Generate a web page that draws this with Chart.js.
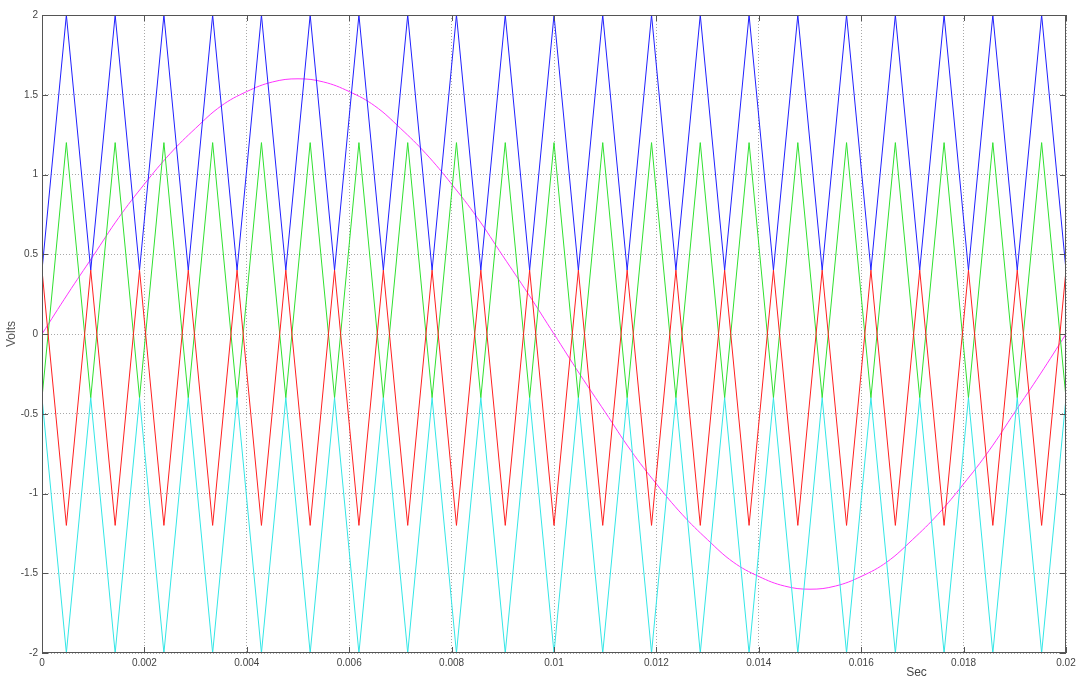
<!DOCTYPE html>
<html>
<head>
<meta charset="utf-8">
<script src="https://cdn.jsdelivr.net/npm/chart.js@4/dist/chart.umd.min.js"></script>
<style>
  html, body { margin: 0; padding: 0; background: #fff; }
  #wrap { width: 1083px; height: 679px; }
</style>
</head>
<body>
<div id="wrap"><canvas id="myChart"></canvas></div>
<script>
// carrier vertex times (s), one every half carrier period
const carrierTimes = [
  0, 0.000476, 0.000952, 0.001429, 0.001905, 0.002381, 0.002857, 0.003333, 0.003810, 0.004286,
  0.004762, 0.005238, 0.005714, 0.006190, 0.006667, 0.007143, 0.007619, 0.008095, 0.008571, 0.009048,
  0.009524, 0.010000, 0.010476, 0.010952, 0.011429, 0.011905, 0.012381, 0.012857, 0.013333, 0.013810,
  0.014286, 0.014762, 0.015238, 0.015714, 0.016190, 0.016667, 0.017143, 0.017619, 0.018095, 0.018571,
  0.019048, 0.019524, 0.020000
];
const blueVolts = [
  0.4, 2, 0.4, 2, 0.4, 2, 0.4, 2, 0.4, 2, 0.4, 2, 0.4, 2, 0.4, 2, 0.4, 2, 0.4, 2, 0.4, 2,
  0.4, 2, 0.4, 2, 0.4, 2, 0.4, 2, 0.4, 2, 0.4, 2, 0.4, 2, 0.4, 2, 0.4, 2, 0.4, 2, 0.4
];
const greenVolts = [
  -0.4, 1.2, -0.4, 1.2, -0.4, 1.2, -0.4, 1.2, -0.4, 1.2, -0.4, 1.2, -0.4, 1.2, -0.4, 1.2, -0.4, 1.2, -0.4, 1.2, -0.4, 1.2,
  -0.4, 1.2, -0.4, 1.2, -0.4, 1.2, -0.4, 1.2, -0.4, 1.2, -0.4, 1.2, -0.4, 1.2, -0.4, 1.2, -0.4, 1.2, -0.4, 1.2, -0.4
];
const redVolts = [
  0.4, -1.2, 0.4, -1.2, 0.4, -1.2, 0.4, -1.2, 0.4, -1.2, 0.4, -1.2, 0.4, -1.2, 0.4, -1.2, 0.4, -1.2, 0.4, -1.2, 0.4, -1.2,
  0.4, -1.2, 0.4, -1.2, 0.4, -1.2, 0.4, -1.2, 0.4, -1.2, 0.4, -1.2, 0.4, -1.2, 0.4, -1.2, 0.4, -1.2, 0.4, -1.2, 0.4
];
const cyanVolts = [
  -0.4, -2, -0.4, -2, -0.4, -2, -0.4, -2, -0.4, -2, -0.4, -2, -0.4, -2, -0.4, -2, -0.4, -2, -0.4, -2, -0.4, -2,
  -0.4, -2, -0.4, -2, -0.4, -2, -0.4, -2, -0.4, -2, -0.4, -2, -0.4, -2, -0.4, -2, -0.4, -2, -0.4, -2, -0.4
];

// reference (magenta) read every 0.5 ms
const refTimes = [
  0, 0.0005, 0.001, 0.0015, 0.002, 0.0025, 0.003, 0.0035, 0.004, 0.0045,
  0.005, 0.0055, 0.006, 0.0065, 0.007, 0.0075, 0.008, 0.0085, 0.009, 0.0095,
  0.01, 0.0105, 0.011, 0.0115, 0.012, 0.0125, 0.013, 0.0135, 0.014, 0.0145,
  0.015, 0.0155, 0.016, 0.0165, 0.017, 0.0175, 0.018, 0.0185, 0.019, 0.0195, 0.02
];
const refVolts = [
  0, 0.25, 0.49, 0.73, 0.94, 1.13, 1.29, 1.43, 1.52, 1.58,
  1.6, 1.58, 1.52, 1.43, 1.29, 1.13, 0.94, 0.73, 0.49, 0.25,
  0, -0.25, -0.49, -0.73, -0.94, -1.13, -1.29, -1.43, -1.52, -1.58,
  -1.6, -1.58, -1.52, -1.43, -1.29, -1.13, -0.94, -0.73, -0.49, -0.25, 0
];

const xTicks = [0, 0.002, 0.004, 0.006, 0.008, 0.01, 0.012, 0.014, 0.016, 0.018, 0.02];
const yTicks = [-2, -1.5, -1, -0.5, 0, 0.5, 1, 1.5, 2];

const toPoints = (xs, ys) => xs.map((x, i) => ({ x: x, y: ys[i] }));

const lineSet = (label, xs, ys, color, extra) => Object.assign({
  label: label,
  data: toPoints(xs, ys),
  borderColor: color,
  backgroundColor: color,
  borderWidth: 1,
  pointRadius: 0,
  tension: 0,
  showLine: true,
}, extra || {});

// box, inside tick marks and the "Sec" label, matlab style
const matlabFrame = {
  id: "matlabFrame",
  afterDraw(chart) {
    const { ctx, chartArea: a, scales } = chart;
    ctx.save();
    ctx.strokeStyle = "#555";
    ctx.lineWidth = 1;
    ctx.strokeRect(a.left + 0.5, a.top + 0.5, a.right - a.left - 1, a.bottom - a.top - 1);
    ctx.beginPath();
    xTicks.forEach((v) => {
      const px = Math.round(scales.x.getPixelForValue(v)) + 0.5;
      ctx.moveTo(px, a.bottom); ctx.lineTo(px, a.bottom - 6);
      ctx.moveTo(px, a.top); ctx.lineTo(px, a.top + 6);
    });
    yTicks.forEach((v) => {
      const py = Math.round(scales.y.getPixelForValue(v)) + 0.5;
      ctx.moveTo(a.left, py); ctx.lineTo(a.left + 6, py);
      ctx.moveTo(a.right, py); ctx.lineTo(a.right - 6, py);
    });
    ctx.stroke();
    ctx.fillStyle = "#444";
    ctx.font = "12px 'Liberation Sans', Arial, sans-serif";
    ctx.textAlign = "center";
    ctx.textBaseline = "alphabetic";
    ctx.fillText("Sec", scales.x.getPixelForValue(0.01708), 676);
    ctx.restore();
  },
};

const gridStyle = {
  color: "#a8a8a8",
  lineWidth: 1,
  drawTicks: false,
};

new Chart(document.getElementById("myChart"), {
  type: "scatter",
  data: {
    datasets: [
      lineSet("Carrier 4", carrierTimes, cyanVolts, "#33e6e6"),
      lineSet("Carrier 3", carrierTimes, redVolts, "#ff2020"),
      lineSet("Carrier 2", carrierTimes, greenVolts, "#30e030"),
      lineSet("Carrier 1", carrierTimes, blueVolts, "#2020ff"),
      lineSet("Reference", refTimes, refVolts, "#ff33ff", { tension: 0.4 }),
    ],
  },
  options: {
    responsive: true,
    maintainAspectRatio: false,
    animation: false,
    layout: {
      padding: { top: 15, right: 17, left: 4, bottom: 0 },
    },
    plugins: {
      legend: { display: false },
      tooltip: { enabled: false },
    },
    scales: {
      x: {
        type: "linear",
        min: 0,
        max: 0.02,
        afterBuildTicks: (scale) => { scale.ticks = xTicks.map((v) => ({ value: v })); },
        afterFit: (scale) => { scale.height = 26; },
        grid: gridStyle,
        border: { display: false, dash: [1, 2] },
        ticks: {
          color: "#444",
          font: { family: "'Liberation Sans', Arial, sans-serif", size: 10 },
          padding: 4,
          maxRotation: 0,
          autoSkip: false,
          callback: (v) => String(v),
        },
      },
      y: {
        type: "linear",
        min: -2,
        max: 2,
        afterBuildTicks: (scale) => { scale.ticks = yTicks.map((v) => ({ value: v })); },
        afterFit: (scale) => { scale.width = 38; },
        grid: gridStyle,
        border: { display: false, dash: [1, 2] },
        title: {
          display: true,
          text: "Volts",
          color: "#555",
          font: { family: "'Liberation Sans', Arial, sans-serif", size: 12 },
          padding: { top: 0, bottom: 0 },
        },
        ticks: {
          color: "#444",
          font: { family: "'Liberation Sans', Arial, sans-serif", size: 10 },
          padding: 4,
          autoSkip: false,
          callback: (v) => String(v),
        },
      },
    },
  },
  plugins: [matlabFrame],
});
</script>
</body>
</html>
